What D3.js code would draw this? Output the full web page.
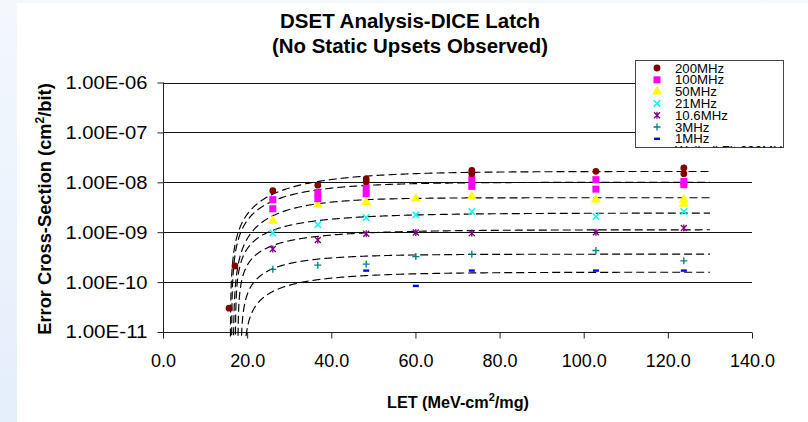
<!DOCTYPE html>
<html><head><meta charset="utf-8">
<script src="https://cdn.jsdelivr.net/npm/d3@7"></script>
<style>html,body{margin:0;padding:0;background:#fff;}svg{display:block;}</style>
</head><body>
<svg id="chart" width="808" height="422"></svg>
<script>
// ---- data ----
const seriesNames = ["200MHz","100MHz","50MHz","21MHz","10.6MHz","3MHz","1MHz"];
const let200 = [15.7, 17.1, 26.1, 36.8, 48.3, 48.3, 73.4, 73.4, 102.9, 123.8, 123.8];
const sig200 = [3.0e-11, 2.1e-10, 6.8e-9, 8.75e-9, 1.17e-8, 1.02e-8, 1.73e-8, 1.49e-8, 1.66e-8, 1.94e-8, 1.49e-8];
const let100 = [26.1, 26.1, 36.8, 36.8, 48.3, 48.3, 73.4, 73.4, 102.9, 102.9, 123.8, 123.8];
const sig100 = [4.5e-9, 2.95e-9, 6.2e-9, 4.7e-9, 7.7e-9, 5.9e-9, 1.13e-8, 8.3e-9, 1.13e-8, 7.3e-9, 1.04e-8, 8.95e-9];
const let50 = [26.1, 36.8, 48.3, 60.1, 73.4, 102.9, 123.8, 123.8];
const sig50 = [1.69e-9, 3.55e-9, 4.0e-9, 4.7e-9, 5.2e-9, 4.5e-9, 4.5e-9, 3.7e-9];
const let21 = [26.1, 36.8, 48.3, 60.1, 73.4, 102.9, 123.8];
const sig21 = [9.6e-10, 1.41e-9, 1.97e-9, 2.23e-9, 2.6e-9, 2.06e-9, 2.6e-9];
const let10 = [26.1, 36.8, 48.3, 60.1, 73.4, 102.9, 123.8];
const sig10 = [4.6e-10, 7.0e-10, 9.3e-10, 9.9e-10, 9.6e-10, 1.0e-9, 1.21e-9];
const let3 = [26.1, 36.8, 48.3, 60.1, 73.4, 102.9, 123.8];
const sig3 = [1.8e-10, 2.18e-10, 2.29e-10, 3.25e-10, 3.63e-10, 4.3e-10, 2.67e-10];
const let1 = [48.3, 60.1, 73.4, 102.9, 123.8];
const sig1 = [1.7e-10, 8.4e-11, 1.7e-10, 1.7e-10, 1.7e-10];

// Weibull fit parameters (one per frequency, same order as seriesNames)
const fitThreshold = [16.0, 16.3, 16.7, 17.2, 17.8, 18.5, 19.2];
const fitWidth     = [21, 17, 15, 15.7, 13.5, 11, 14];
const fitShape     = [1.15, 1.1, 1.2, 0.9, 0.85, 0.9, 0.9];
const fitSat       = [1.65e-8, 1.0e-8, 4.9e-9, 2.42e-9, 1.12e-9, 3.63e-10, 1.58e-10];
const fitEnd = 130;

const xTicks = [0, 20, 40, 60, 80, 100, 120, 140];
const yTicks = [1e-11, 1e-10, 1e-9, 1e-8, 1e-7, 1e-6];

const titleLines = ["DSET Analysis-DICE Latch", "(No Static Upsets Observed)"];

// ---- drawing ----
const svg = d3.select("#chart");
const defs = svg.append("defs");
const grad = defs.append("linearGradient").attr("id","bgGrad").attr("x1",0).attr("y1",0).attr("x2",0).attr("y2",1);
grad.append("stop").attr("offset","0%").attr("stop-color","#f4f8fd");
grad.append("stop").attr("offset","100%").attr("stop-color","#e4eefb");
svg.append("rect").attr("width",808).attr("height",422).attr("fill","url(#bgGrad)");
svg.append("rect").attr("x",17).attr("y",3).attr("width",791).attr("height",419).attr("fill","#fff");

const x = d3.scaleLinear().domain([0,140]).range([163,752]);
const y = d3.scaleLog().domain([1e-11,1e-6]).range([332,82.5]);
const font = "'Liberation Sans', Arial, Helvetica, sans-serif";

// gridlines
svg.append("g").selectAll("line").data(yTicks.slice(1)).join("line")
  .attr("x1",163).attr("x2",752)
  .attr("y1",d=>Math.round(y(d))+0.5).attr("y2",d=>Math.round(y(d))+0.5)
  .attr("stroke","#111").attr("stroke-width",1);

// axes
const yAxis = d3.axisLeft(y).tickValues(yTicks).tickSize(6).tickPadding(10)
  .tickFormat(d=>d3.format(".2e")(d).replace("e","E").replace(/E([+-])(\d)$/,"E$10$2"));
const gy = svg.append("g").attr("transform","translate(163.5,0)").call(yAxis);
gy.select(".domain").attr("stroke","#222").attr("d","M0,"+y(1e-6)+"V"+y(1e-11));
gy.selectAll(".tick line").attr("stroke","#222");
gy.selectAll(".tick text").attr("font-family",font).attr("font-size",18.5).attr("fill","#000")
  .attr("textLength",82).attr("lengthAdjust","spacingAndGlyphs");

const xAxis = d3.axisBottom(x).tickValues(xTicks).tickSize(6).tickPadding(16).tickFormat(d3.format(".1f"));
const gx = svg.append("g").attr("transform","translate(0,"+(Math.round(y(1e-11))+0.5)+")").call(xAxis);
gx.select(".domain").attr("stroke","#222").attr("d","M"+x(0)+",0H"+x(140));
gx.selectAll(".tick line").attr("stroke","#222");
gx.selectAll(".tick text").attr("font-family",font).attr("font-size",18).attr("fill","#000");

// fit curves
const line = d3.line().x(d=>x(d[0])).y(d=>y(d[1]));
seriesNames.forEach((n,i)=>{
  const L0 = fitThreshold[i], W = fitWidth[i], s = fitShape[i], S = fitSat[i];
  const pts = [];
  d3.range(0,1.0001,0.0025).forEach(t=>{
    const L = L0 + (fitEnd-L0)*Math.pow(t,3);
    const v = S*(1-Math.exp(-Math.pow((L-L0)/W,s)));
    if (v >= 8e-12) pts.push([L,v]);
  });
  svg.append("path").attr("d",line(pts)).attr("fill","none")
    .attr("stroke","#000").attr("stroke-width",1.15).attr("stroke-dasharray","8,4");
});

// markers
function drawMarker(g, k) {
  if (k===0) g.append("circle").attr("r",3.4).attr("fill","#800000");
  else if (k===1) g.append("rect").attr("x",-3.5).attr("y",-3.5).attr("width",7).attr("height",7).attr("fill","#ff00ff");
  else if (k===2) g.append("path").attr("d",d3.symbol(d3.symbolTriangle,42)()).attr("fill","#ffff00");
  else if (k===3) g.append("path").attr("d","M-3.2,-3.2L3.2,3.2M-3.2,3.2L3.2,-3.2").attr("stroke","#00ffff").attr("stroke-width",1.5);
  else if (k===4) g.append("path").attr("d","M-3,-3L3,3M-3,3L3,-3M0,-3.5V3.5").attr("stroke","#800080").attr("stroke-width",1.3);
  else if (k===5) g.append("path").attr("d","M-3.5,0H3.5M0,-3.5V3.5").attr("stroke","#008080").attr("stroke-width",1.3);
  else g.append("rect").attr("x",-3).attr("y",-1.2).attr("width",6).attr("height",2.4).attr("fill","#0000ff");
}
const allLet = [let200,let100,let50,let21,let10,let3,let1];
const allSig = [sig200,sig100,sig50,sig21,sig10,sig3,sig1];
for (let k=6;k>=0;k--) {
  const pts = allLet[k].map((L,j)=>[L,allSig[k][j]]);
  svg.append("g").selectAll("g").data(pts).join("g")
    .attr("transform",d=>"translate("+x(d[0])+","+y(d[1])+")")
    .each(function(){ drawMarker(d3.select(this),k); });
}

// legend
defs.append("clipPath").attr("id","legClip").append("rect").attr("x",635).attr("y",60).attr("width",148).attr("height",87.5);
svg.append("rect").attr("x",635.5).attr("y",60.5).attr("width",148).attr("height",87).attr("fill","#fff").attr("stroke","#444");
const leg = svg.append("g").attr("clip-path","url(#legClip)");
const legNames = seriesNames.concat(["Weibull Fit 200MHz"]);
legNames.forEach((n,i)=>{
  const ly = 68 + i*11.8;
  const g = leg.append("g").attr("transform","translate(657,"+ly+")");
  if (i<7) drawMarker(g,i);
  else g.append("line").attr("x1",-10).attr("x2",10).attr("stroke","#000").attr("stroke-dasharray","4,2");
  leg.append("text").attr("x",675).attr("y",ly+4.5).attr("font-family",font).attr("font-size",13.2).attr("fill","#000").text(n);
});

// titles
const titleLen = [260, 276];
svg.selectAll(".title").data(titleLines).join("text").attr("class","title")
  .attr("x",410).attr("y",(d,i)=>28+i*25).attr("text-anchor","middle")
  .attr("font-family",font).attr("font-weight","bold").attr("font-size",19.5)
  .attr("textLength",(d,i)=>titleLen[i]).attr("lengthAdjust","spacingAndGlyphs").text(d=>d);

// axis labels
const xl = svg.append("text").attr("x",458).attr("y",408).attr("text-anchor","middle")
  .attr("font-family",font).attr("font-weight","bold").attr("font-size",16.2);
xl.append("tspan").text("LET (MeV-cm");
xl.append("tspan").attr("dy",-7).attr("font-size",11).text("2");
xl.append("tspan").attr("dy",7).text("/mg)");

const yl = svg.append("text").attr("transform","translate(51,209) rotate(-90)").attr("text-anchor","middle")
  .attr("font-family",font).attr("font-weight","bold").attr("font-size",18.3);
yl.append("tspan").text("Error Cross-Section (cm");
yl.append("tspan").attr("dy",-7).attr("font-size",12).text("2");
yl.append("tspan").attr("dy",7).text("/bit)");
</script>
</body></html>
